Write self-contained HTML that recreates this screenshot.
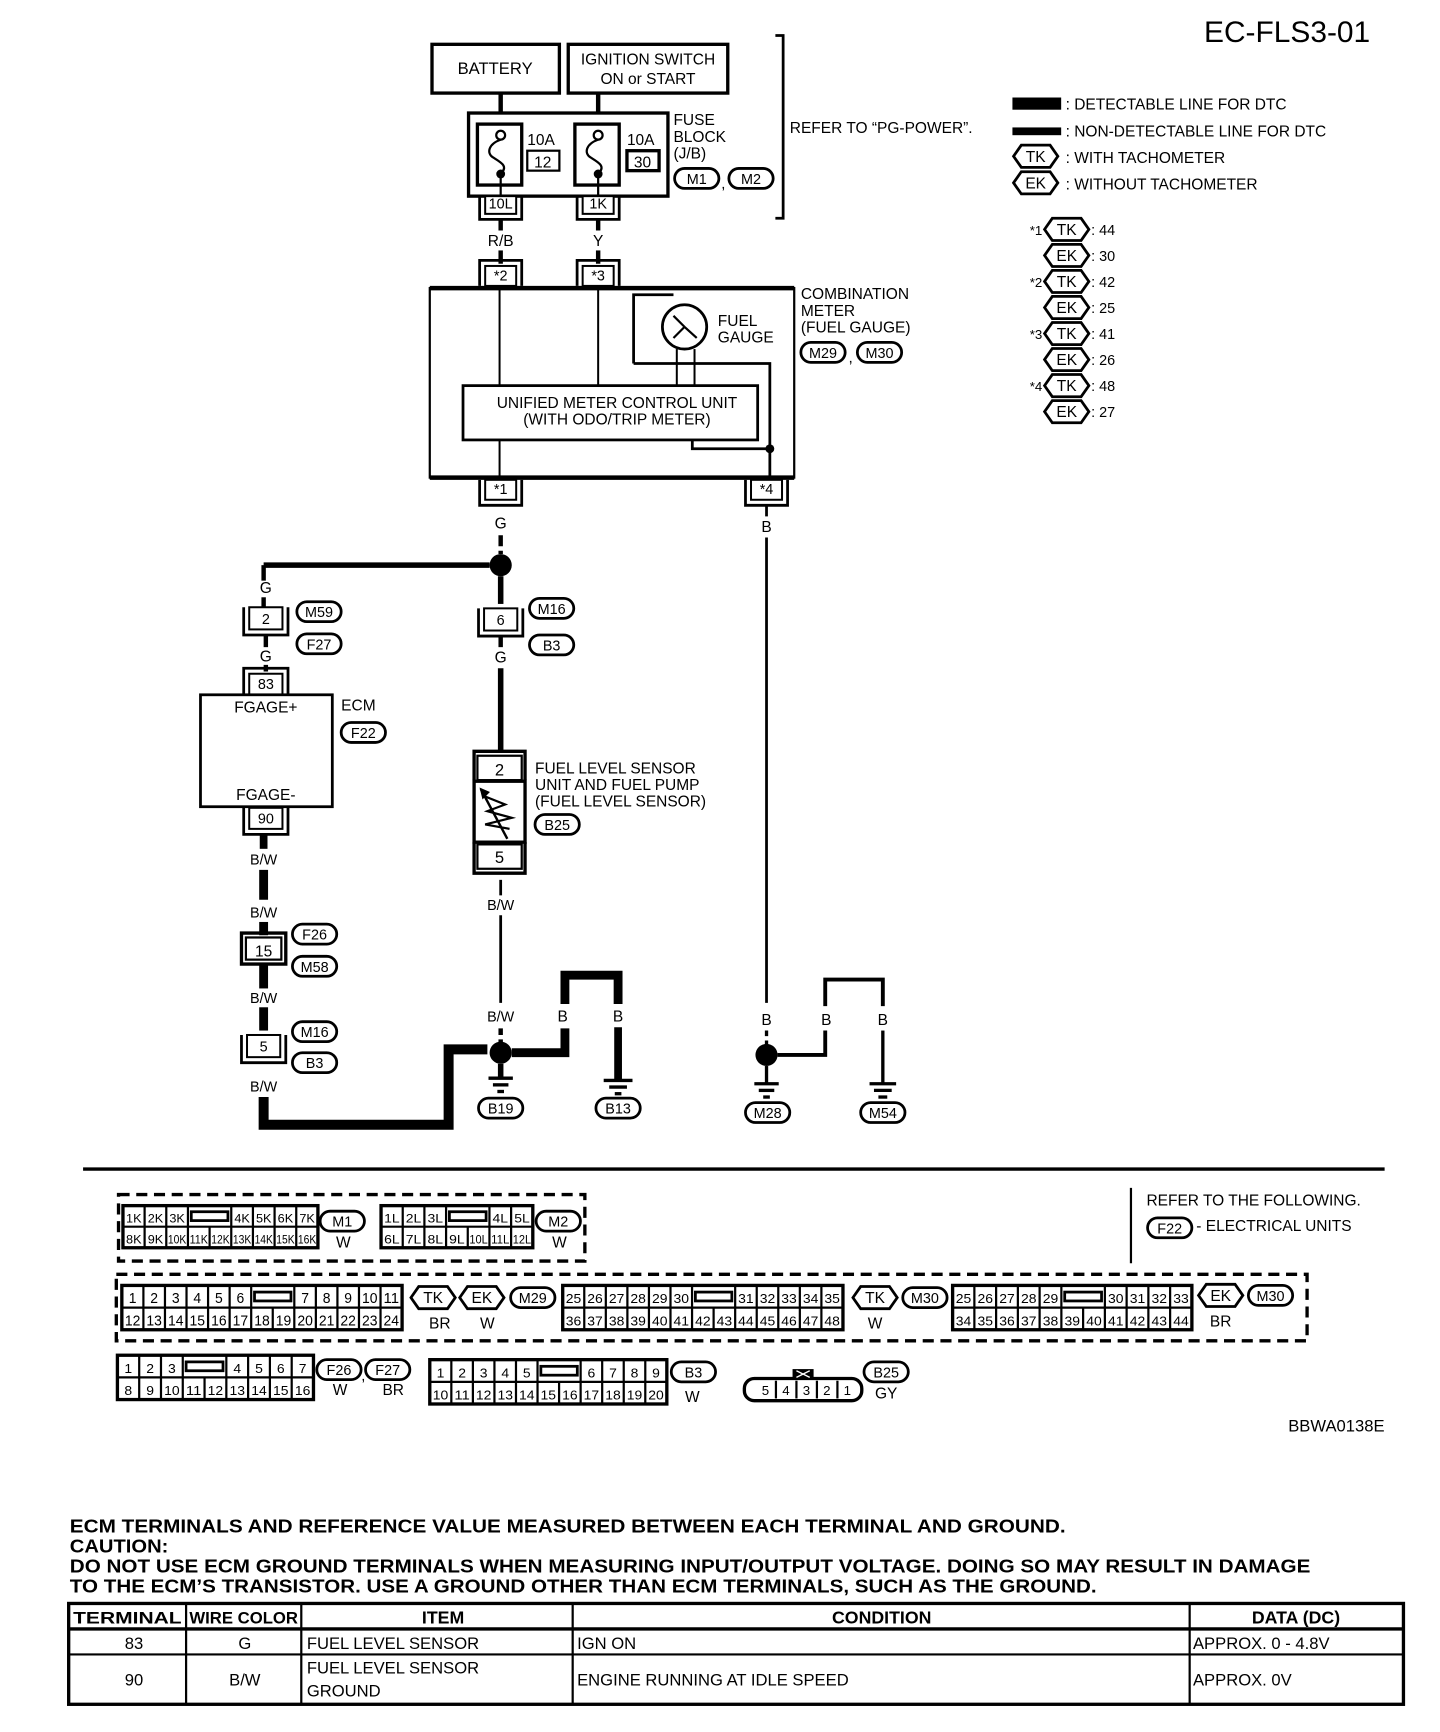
<!DOCTYPE html>
<html><head><meta charset="utf-8"><style>
html,body{margin:0;padding:0;background:#fff}
svg{display:block}
text{font-family:"Liberation Sans",Arial,sans-serif;fill:#000}
</style></head><body>
<svg id="s" xmlns="http://www.w3.org/2000/svg" width="1440" height="1732" viewBox="0 0 1300 1563" preserveAspectRatio="none">
<rect width="1300" height="1563" fill="#fff"/>
<text x="1237" y="38" font-size="27" text-anchor="end">EC-FLS3-01</text>
<text x="63" y="1383" font-size="17" font-weight="bold" textLength="899" lengthAdjust="spacingAndGlyphs">ECM TERMINALS AND REFERENCE VALUE MEASURED BETWEEN EACH TERMINAL AND GROUND.</text>
<text x="63" y="1401" font-size="17" font-weight="bold" textLength="89" lengthAdjust="spacingAndGlyphs">CAUTION:</text>
<text x="63" y="1419" font-size="17" font-weight="bold" textLength="1120" lengthAdjust="spacingAndGlyphs">DO NOT USE ECM GROUND TERMINALS WHEN MEASURING INPUT/OUTPUT VOLTAGE. DOING SO MAY RESULT IN DAMAGE</text>
<text x="63" y="1437" font-size="17" font-weight="bold" textLength="927" lengthAdjust="spacingAndGlyphs">TO THE ECM’S TRANSISTOR. USE A GROUND OTHER THAN ECM TERMINALS, SUCH AS THE GROUND.</text>
<text x="1163" y="1292" font-size="15">BBWA0138E</text>
</svg>
<script>
var S=document.getElementById('s'),NS='http://www.w3.org/2000/svg';
function E(t,a,txt){var e=document.createElementNS(NS,t);for(var k in a)e.setAttribute(k,a[k]);if(txt!==undefined)e.textContent=txt;S.appendChild(e);return e;}
function T(x,y,s,sz,anc,w,tl){var a={x:x,y:y,'font-size':sz||14};if(anc)a['text-anchor']=anc;if(w)a['font-weight']=w;if(tl){a.textLength=tl;a.lengthAdjust='spacingAndGlyphs';}return E('text',a,s);}
function L(x1,y1,x2,y2,w,d){var a={x1:x1,y1:y1,x2:x2,y2:y2,stroke:'#000','stroke-width':w||2};if(d)a['stroke-dasharray']=d;return E('line',a);}
function P(d,w,f){return E('path',{d:d,stroke:'#000','stroke-width':w||2,fill:f||'none'});}
function R(x,y,w,h,sw,f){return E('rect',{x:x,y:y,width:w,height:h,stroke:'#000','stroke-width':sw||2,fill:f||'#fff'});}
function C(x,y,r,f,sw){return E('circle',{cx:x,cy:y,r:r,fill:f||'#000',stroke:'#000','stroke-width':sw||0});}
function oval(cx,cy,s){E('rect',{x:cx-20,y:cy-9,width:40,height:18,rx:9,ry:9,fill:'#fff',stroke:'#000','stroke-width':2.5});T(cx,cy+5,s,13,'middle');}
function hex(cx,cy,s){var w=20,h=10;E('polygon',{points:(cx-w)+','+cy+' '+(cx-w+7)+','+(cy-h)+' '+(cx+w-7)+','+(cy-h)+' '+(cx+w)+','+cy+' '+(cx+w-7)+','+(cy+h)+' '+(cx-w+7)+','+(cy+h),fill:'#fff',stroke:'#000','stroke-width':2.5});T(cx,cy+5,s,14,'middle');}
function term(cx,y,w,h,s,open){R(cx-w/2,y,w,h,1.8);T(cx,y+h-5,s,13,'middle');
 var o=5;if(open==='top'){P('M'+(cx-w/2-o)+' '+y+' V'+(y+h+o)+' H'+(cx+w/2+o)+' V'+y,2.5);}
 else{P('M'+(cx-w/2-o)+' '+(y+h)+' V'+(y-o)+' H'+(cx+w/2+o)+' V'+(y+h),2.5);}}
R(390,40,115,44,3);T(447,67,'BATTERY',15,'middle');
R(513,40,144,44,3);T(585,58,'IGNITION SWITCH',14,'middle');T(585,76,'ON or START',14,'middle');
P('M700 32 H707 V197 H700',2.5);T(713,120,'REFER TO “PG-POWER”.',14);
L(452,84,452,102,4);L(540,84,540,102,4);
R(423,102,180,75,3);
function fuse(x){R(x,112,40,55,3);C(x+21,122,4,'#fff',2);P('M'+(x+21)+' 126 C'+(x+10)+' 130 '+(x+8)+' 138 '+(x+14)+' 142 C'+(x+22)+' 147 '+(x+28)+' 150 '+(x+21)+' 157',2);C(x+21,157,4);L(x+21,157,x+21,177,2);}
fuse(431);fuse(519);
T(476,131,'10A',14);R(476,136,29,18,2);T(490,151,'12',14,'middle');
T(566,131,'10A',14);R(566,136,29,18,3);T(580,151,'30',14,'middle');
T(608,113,'FUSE',14);T(608,128,'BLOCK',14);T(608,143,'(J/B)',14);
oval(629,161,'M1');T(651,170,',',14);oval(678,161,'M2');
term(452,177,28,16,'10L','top');term(540,177,28,16,'1K','top');
L(452,198,452,208,4);L(540,198,540,208,4);
T(452,222,'R/B',14,'middle');T(540,222,'Y',14,'middle');
L(452,226,452,238,4);L(540,226,540,238,4);
term(452,240,28,18,'*2','bottom');term(540,240,28,18,'*3','bottom');
R(388,260,329,171,2);L(388,260,717,260,4);L(388,431,717,431,4);
L(451,260,451,348,1.8);L(540,260,540,348,1.8);L(451,397,451,431,1.8);
P('M572 328 V266 H608',2.5);C(618,295,20,'#fff',2.5);P('M618 295 L608 285 M618 295 L608 305 M618 295 L629 305',2);
L(611,315,611,348,1.8);L(627,315,627,348,1.8);P('M572 328 H695 V431',2.5);
R(418,348,266,49,2.5);T(557,368,'UNIFIED METER CONTROL UNIT',14,'middle');T(557,383,'(WITH ODO/TRIP METER)',14,'middle');
P('M625 397 V405 H695',2.5);C(695,405,4);
T(648,294,'FUEL',14);T(648,309,'GAUGE',14);
T(723,270,'COMBINATION',14);T(723,285,'METER',14);T(723,300,'(FUEL GAUGE)',14);
oval(743,318,'M29');T(766,327,',',14);oval(794,318,'M30');
term(452,433,28,18,'*1','top');term(692,433,28,18,'*4','top');
T(452,477,'G',14,'middle');T(692,480,'B',14,'middle');
L(452,483,452,500,4,'10,4');L(692,456,692,466,2.5);L(692,485,692,905,2.5);
C(452,510,10);L(238,510,442,510,5);L(452,520,452,545,5);
L(238,510,238,524,4);T(240,535,'G',14,'middle');L(238,539,238,548,4);
term(240,548,30,20,'2','top');oval(288,552,'M59');oval(288,581,'F27');
L(240,573,240,584,4);T(240,597,'G',14,'middle');L(240,600,240,606,4);
term(240,608,30,19,'83','bottom');
R(181,627,119,101,2.5);T(240,643,'FGAGE+',14,'middle');T(240,722,'FGAGE-',14,'middle');
T(308,641,'ECM',14);oval(328,661,'F22');
term(240,729,30,19,'90','top');
L(238,752,238,766,7);T(238,780,'B/W',13,'middle');L(238,785,238,812,8);T(238,828,'B/W',13,'middle');
L(238,832,238,844,8);
R(222,846,32,20,2);T(238,863,'15',14,'middle');P('M218 842 H258 V870 H218 Z',3,'none');
oval(284,843,'F26');oval(284,872,'M58');
L(238,870,238,892,8);T(238,905,'B/W',13,'middle');L(238,909,238,930,8);
term(238,934,30,20,'5','top');oval(284,931,'M16');oval(284,959,'B3');
T(238,985,'B/W',13,'middle');
P('M238 990 V1015 H405 V947 H440',9);
term(452,549,30,20,'6','top');oval(498,549,'M16');oval(498,582,'B3');
L(452,574,452,584,4);T(452,598,'G',14,'middle');L(452,603,452,678,5);
R(431,682,40,22,2);T(451,700,'2',15,'middle');P('M428 704 V678 H474 V704',3);
R(428,705,46,55,3);
P('M436 718 L456 726 L440 732 L462 738 L438 744 L460 748',2);L(434,712,458,757,2.2);P('M434 712 l2 8 l5 -5 z',1.5,'#000');
R(431,762,40,22,2);T(451,779,'5',15,'middle');P('M428 760 V788 H474 V760',3);
T(483,698,'FUEL LEVEL SENSOR',14);T(483,713,'UNIT AND FUEL PUMP',14);T(483,728,'(FUEL LEVEL SENSOR)',14);
oval(503,744,'B25');
L(452,794,452,808,2.5);T(452,821,'B/W',13,'middle');L(452,826,452,905,2.5);T(452,922,'B/W',13,'middle');
L(452,928,452,942,4,'6,4');C(452,950,10);
L(452,960,452,973,5);L(441,973,463,973,3);L(445,979,459,979,3);L(449,985,455,985,3);oval(452,1000,'B19');
P('M462 950 H510 V928',8);P('M510 906 V880 H558 V906',8);T(508,922,'B',14,'middle');T(558,922,'B',14,'middle');
L(558,927,558,975,7);L(545,975,571,975,3);L(550,981,566,981,3);L(555,987,561,987,3);oval(558,1000,'B13');
T(692,925,'B',14,'middle');L(692,930,692,943,3,'5,4');C(692,952,10);
L(692,962,692,978,3);L(681,978,703,978,3);L(685,984,699,984,3);L(689,990,695,990,3);oval(693,1004,'M28');
P('M702 952 H745 V930',3.5);P('M745 908 V884 H797 V908',3.5);T(746,925,'B',14,'middle');T(797,925,'B',14,'middle');
L(797,930,797,978,3);L(785,978,809,978,3);L(789,984,805,984,3);L(793,990,801,990,3);oval(797,1004,'M54');
R(915,89,42,9,0,'#000');R(915,116,42,5,0,'#000');
T(962,99,': DETECTABLE LINE FOR DTC',14);T(962,123,': NON-DETECTABLE LINE FOR DTC',14);
hex(935,141,'TK');T(962,147,': WITH TACHOMETER',14);hex(935,165,'EK');T(962,171,': WITHOUT TACHOMETER',14);
var lg=[['*1','TK','44'],['','EK','30'],['*2','TK','42'],['','EK','25'],['*3','TK','41'],['','EK','26'],['*4','TK','48'],['','EK','27']];
for(var i=0;i<lg.length;i++){var yy=207+i*23.5;if(lg[i][0])T(941,yy+5,lg[i][0],12,'end');hex(963,yy,lg[i][1]);T(985,yy+5,': '+lg[i][2],13);}
L(75,1055,1250,1055,3);L(1021,1072,1021,1140,2);
T(1035,1088,'REFER TO THE FOLLOWING.',14);oval(1056,1108,'F22');T(1080,1111,'- ELECTRICAL UNITS',14);
function grid(x,y,w,h,r1,r2,fs){var n=r2.length,cw=w/n,rh=h/2;R(x,y,w,h,3,'#fff');
 var cx=x;for(var i=0;i<r1.length;i++){var wd=(r1[i]==='#')?2*cw:cw;
  if(r1[i]==='#'){R(cx+3,y+rh/2-4,wd-6,8,2.5,'#fff');}else{T(cx+wd/2,y+rh-4,r1[i],fs||12,'middle','',Math.min(cw-3,r1[i].length*7));}
  if(cx>x)L(cx,y,cx,y+rh,2);cx+=wd;}
 L(x,y+rh,x+w,y+rh,2);
 for(var j=0;j<n;j++){var c2=x+j*cw;if(j>0)L(c2,y+rh,c2,y+h,2);T(c2+cw/2,y+h-4,r2[j],fs||12,'middle','',Math.min(cw-3,r2[j].length*7));}}
function seq(a,b,suf){var r=[];for(var i=a;i<=b;i++)r.push(i+(suf||''));return r;}
P('M107 1078 H528 V1138 H107 Z',3,'none').setAttribute('stroke-dasharray','10,6');
grid(111,1088,176,38,['1K','2K','3K','#','4K','5K','6K','7K'],seq(8,16,'K'),11);
oval(309,1102,'M1');T(310,1126,'W',14,'middle');
grid(344,1088,137,38,['1L','2L','3L','#','4L','5L'],seq(6,12,'L'),11);
oval(504,1102,'M2');T(505,1126,'W',14,'middle');
P('M105 1150 H1180 V1210 H105 Z',3,'none').setAttribute('stroke-dasharray','10,6');
grid(110,1160,253,40,seq(1,6).concat(['#']).concat(seq(7,11)),seq(12,24),13);
hex(391,1171,'TK');T(397,1199,'BR',14,'middle');hex(435,1171,'EK');T(440,1199,'W',14,'middle');oval(481,1171,'M29');
grid(508,1160,253,40,seq(25,30).concat(['#']).concat(seq(31,35)),seq(36,48),12);
hex(790,1171,'TK');T(790,1199,'W',14,'middle');oval(835,1171,'M30');
grid(860,1160,216,40,seq(25,29).concat(['#']).concat(seq(30,33)),seq(34,44),12);
hex(1102,1169,'EK');T(1102,1197,'BR',14,'middle');oval(1147,1169,'M30');
grid(106,1223,177,40,['1','2','3','#','4','5','6','7'],seq(8,16),12);
oval(306,1236,'F26');T(326,1246,',',14);oval(350,1236,'F27');T(307,1259,'W',14,'middle');T(355,1259,'BR',14,'middle');
grid(388,1227,214,40,seq(1,5).concat(['#']).concat(seq(6,9)),seq(10,20),12);
oval(626,1238,'B3');T(625,1265,'W',14,'middle');
E('rect',{x:672,y:1244,width:106,height:20,rx:9,fill:'#fff',stroke:'#000','stroke-width':3});
var b=['5','4','3','2','1'];for(var k=0;k<5;k++){var bx=682+k*18.5;if(k>0)L(bx,1246,bx,1262,2);T(bx+9,1259,b[k],12,'middle');}
R(716,1236,18,8,1,'#000');P('M719 1237 L731 1243 M731 1237 L719 1243',1.2).setAttribute('stroke','#fff');
oval(800,1238,'B25');T(800,1262,'GY',14,'middle');
R(62,1447,1205,91,3,'none');
[168,272,517,1074].forEach(function(x){L(x,1447,x,1538,2);});
L(62,1470,1267,1470,3);L(62,1493,1267,1493,2);
T(115,1465,'TERMINAL',15,'middle','bold',98);T(220,1465,'WIRE COLOR',15,'middle','bold',98);
T(400,1465,'ITEM',16,'middle','bold');T(796,1465,'CONDITION',16,'middle','bold');T(1170,1465,'DATA (DC)',16,'middle','bold');
T(121,1488,'83',15,'middle');T(221,1488,'G',15,'middle');T(277,1488,'FUEL LEVEL SENSOR',15);T(521,1488,'IGN ON',15);T(1077,1488,'APPROX. 0 - 4.8V',15);
T(121,1521,'90',15,'middle');T(221,1521,'B/W',15,'middle');T(277,1510,'FUEL LEVEL SENSOR',15);T(277,1531,'GROUND',15);T(521,1521,'ENGINE RUNNING AT IDLE SPEED',15);T(1077,1521,'APPROX. 0V',15);
</script>
</body></html>
